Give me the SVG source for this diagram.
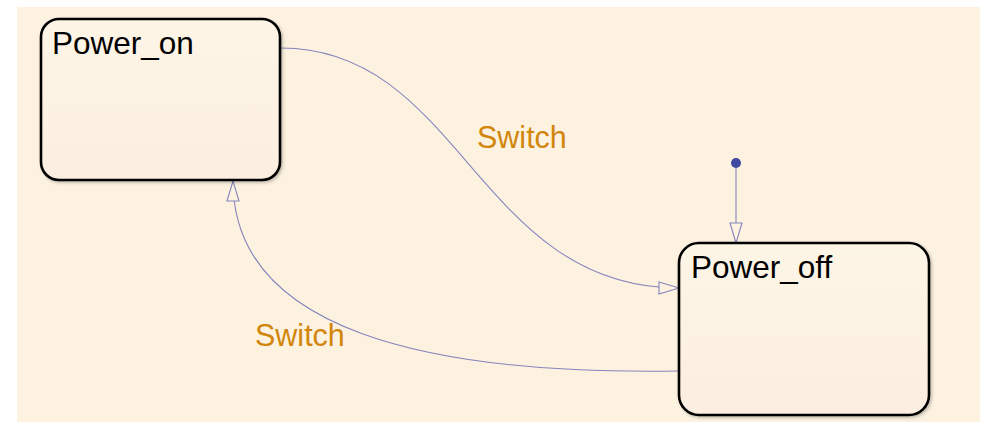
<svg xmlns="http://www.w3.org/2000/svg" width="986" height="422" viewBox="0 0 986 422">
<style>
.state{stroke:#000;stroke-width:2.6;fill:url(#sf);filter:url(#sh)}
.name{font-family:"Liberation Sans",Arial,sans-serif;font-size:31.5px;fill:#000}
.lbl{font-family:"Liberation Sans",Arial,sans-serif;font-size:30.5px;fill:#d1860a}
.tr{fill:none;stroke:#8585bd;stroke-width:1.1}
</style>
<defs>
<linearGradient id="sf" x1="0" y1="0" x2="0" y2="1">
<stop offset="0" stop-color="#fdf5e6"/>
<stop offset="1" stop-color="#fbeee0"/>
</linearGradient>
<filter id="sh" x="-10%" y="-10%" width="120%" height="120%">
<feDropShadow dx="1.5" dy="1.5" stdDeviation="1.5" flood-color="#000" flood-opacity="0.25"/>
</filter>
<marker id="ah" viewBox="0 0 22 14" refX="21" refY="7" markerWidth="22" markerHeight="14" markerUnits="userSpaceOnUse" orient="auto">
<path d="M1,1 L21,7 L1,13 Z" fill="#fdf3e0" stroke="#8585bd" stroke-width="1.1"/>
</marker>
</defs>
<rect x="17" y="7" width="963" height="415" fill="#fdf2e0"/>
<g id="connectors">
<path class="tr" d="M281,48 C461,48 478,288 679,288" marker-end="url(#ah)"/>
<path class="tr" d="M679,371 C429,375 233,331 233,181" marker-end="url(#ah)"/>
<line class="tr" x1="736" y1="163" x2="736" y2="243" marker-end="url(#ah)"/>
<circle cx="736" cy="163" r="5" fill="#3f4aa0"/>
<text class="lbl" x="477" y="148">Switch</text>
<text class="lbl" x="255" y="346">Switch</text>
</g>
<g id="Power_on">
<rect class="state" x="41" y="19" width="239" height="161" rx="18" ry="18"/>
<text class="name" x="52" y="54">Power_on</text>
</g>
<g id="Power_off">
<rect class="state" x="679" y="243" width="250" height="172" rx="20" ry="20"/>
<text class="name" x="691" y="278">Power_off</text>
</g>
</svg>
